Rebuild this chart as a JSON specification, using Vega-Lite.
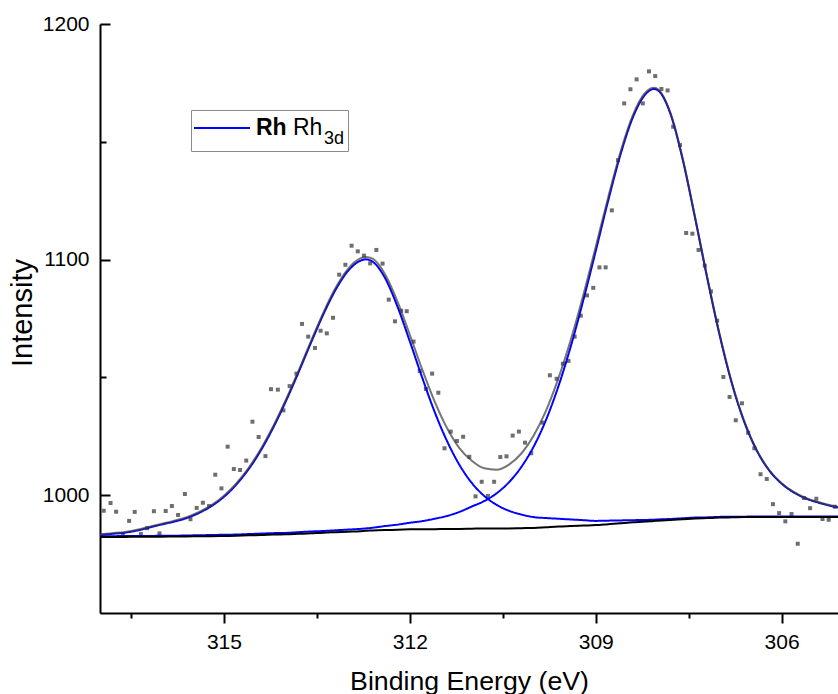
{
  "$schema": "https://vega.github.io/schema/vega-lite/v6.json",
  "width": 738,
  "height": 589,
  "autosize": {"type": "none"},
  "padding": {"left": 100, "top": 24, "right": 0, "bottom": 81},
  "background": "white",
  "config": {"view": {"stroke": null}, "font": "Liberation Sans"},
  "datasets": {
    "points": [
      {"be": 316.94, "counts": 993.4}, {"be": 316.83, "counts": 996.7}, {"be": 316.74, "counts": 993.0},
      {"be": 316.63, "counts": 983.5}, {"be": 316.53, "counts": 989.1}, {"be": 316.44, "counts": 992.9},
      {"be": 316.34, "counts": 983.5}, {"be": 316.24, "counts": 986.0}, {"be": 316.13, "counts": 993.2},
      {"be": 316.04, "counts": 983.8}, {"be": 315.94, "counts": 993.3}, {"be": 315.84, "counts": 995.4},
      {"be": 315.74, "counts": 991.6}, {"be": 315.63, "counts": 1000.5}, {"be": 315.54, "counts": 989.8},
      {"be": 315.44, "counts": 994.6}, {"be": 315.34, "counts": 996.8}, {"be": 315.24, "counts": 995.4},
      {"be": 315.14, "counts": 1008.7}, {"be": 315.04, "counts": 1002.9}, {"be": 314.94, "counts": 1020.6},
      {"be": 314.84, "counts": 1011.1}, {"be": 314.74, "counts": 1010.7}, {"be": 314.64, "counts": 1014.7},
      {"be": 314.54, "counts": 1031.2}, {"be": 314.44, "counts": 1024.7}, {"be": 314.33, "counts": 1016.6},
      {"be": 314.24, "counts": 1045.0}, {"be": 314.13, "counts": 1044.8}, {"be": 314.04, "counts": 1036.0},
      {"be": 313.94, "counts": 1046.3}, {"be": 313.83, "counts": 1051.6}, {"be": 313.74, "counts": 1072.7},
      {"be": 313.64, "counts": 1067.3}, {"be": 313.53, "counts": 1062.5}, {"be": 313.44, "counts": 1069.8},
      {"be": 313.34, "counts": 1068.7}, {"be": 313.24, "counts": 1075.3}, {"be": 313.14, "counts": 1093.6},
      {"be": 313.04, "counts": 1097.8}, {"be": 312.94, "counts": 1105.9}, {"be": 312.84, "counts": 1103.5},
      {"be": 312.74, "counts": 1101.7}, {"be": 312.64, "counts": 1098.4}, {"be": 312.54, "counts": 1104.1},
      {"be": 312.44, "counts": 1098.3}, {"be": 312.34, "counts": 1083.0}, {"be": 312.24, "counts": 1073.8},
      {"be": 312.14, "counts": 1078.3}, {"be": 312.05, "counts": 1078.1}, {"be": 311.94, "counts": 1065.2},
      {"be": 311.84, "counts": 1052.7}, {"be": 311.74, "counts": 1045.1}, {"be": 311.64, "counts": 1051.6},
      {"be": 311.54, "counts": 1043.5}, {"be": 311.44, "counts": 1019.9}, {"be": 311.34, "counts": 1027.0},
      {"be": 311.24, "counts": 1023.0}, {"be": 311.14, "counts": 1024.8}, {"be": 311.04, "counts": 1016.3},
      {"be": 310.94, "counts": 999.5}, {"be": 310.84, "counts": 1005.7}, {"be": 310.74, "counts": 999.7},
      {"be": 310.64, "counts": 1005.7}, {"be": 310.54, "counts": 1016.2}, {"be": 310.44, "counts": 1016.5},
      {"be": 310.34, "counts": 1025.3}, {"be": 310.24, "counts": 1027.0}, {"be": 310.14, "counts": 1022.3},
      {"be": 310.04, "counts": 1017.8}, {"be": 309.86, "counts": 1030.8}, {"be": 309.74, "counts": 1050.9},
      {"be": 309.63, "counts": 1049.4}, {"be": 309.53, "counts": 1055.8}, {"be": 309.44, "counts": 1057.0},
      {"be": 309.34, "counts": 1067.3}, {"be": 309.24, "counts": 1076.2}, {"be": 309.14, "counts": 1084.8},
      {"be": 309.04, "counts": 1088.0}, {"be": 308.94, "counts": 1096.7}, {"be": 308.84, "counts": 1096.7},
      {"be": 308.74, "counts": 1120.9}, {"be": 308.64, "counts": 1142.2}, {"be": 308.54, "counts": 1166.3},
      {"be": 308.44, "counts": 1172.3}, {"be": 308.34, "counts": 1176.5}, {"be": 308.24, "counts": 1166.3},
      {"be": 308.14, "counts": 1179.9}, {"be": 308.04, "counts": 1177.9}, {"be": 307.94, "counts": 1172.4},
      {"be": 307.84, "counts": 1171.8}, {"be": 307.75, "counts": 1156.4}, {"be": 307.64, "counts": 1148.6},
      {"be": 307.54, "counts": 1111.3}, {"be": 307.44, "counts": 1111.0}, {"be": 307.34, "counts": 1104.1},
      {"be": 307.24, "counts": 1097.4}, {"be": 307.14, "counts": 1086.5}, {"be": 307.04, "counts": 1074.1},
      {"be": 306.94, "counts": 1050.2}, {"be": 306.84, "counts": 1041.7}, {"be": 306.74, "counts": 1031.8},
      {"be": 306.64, "counts": 1039.0}, {"be": 306.54, "counts": 1026.5}, {"be": 306.44, "counts": 1019.9},
      {"be": 306.34, "counts": 1008.9}, {"be": 306.24, "counts": 1006.9}, {"be": 306.14, "counts": 996.2},
      {"be": 306.04, "counts": 992.4}, {"be": 305.94, "counts": 988.9}, {"be": 305.84, "counts": 992.0},
      {"be": 305.74, "counts": 979.4}, {"be": 305.64, "counts": 998.8}, {"be": 305.54, "counts": 994.5},
      {"be": 305.44, "counts": 998.5}, {"be": 305.34, "counts": 989.9}, {"be": 305.24, "counts": 989.6},
      {"be": 305.14, "counts": 995.1}
    ],
    "curves": [
      {"be": 317.0, "baseline": 982.3, "peak1": 983.1, "peak2": 982.6, "envelope": 983.4},
      {"be": 316.8, "baseline": 982.3, "peak1": 983.6, "peak2": 982.6, "envelope": 983.9},
      {"be": 316.6, "baseline": 982.3, "peak1": 984.1, "peak2": 982.7, "envelope": 984.4},
      {"be": 316.4, "baseline": 982.4, "peak1": 985.0, "peak2": 982.7, "envelope": 985.3},
      {"be": 316.2, "baseline": 982.4, "peak1": 986.3, "peak2": 982.7, "envelope": 986.6},
      {"be": 316.0, "baseline": 982.4, "peak1": 987.6, "peak2": 982.8, "envelope": 987.9},
      {"be": 315.8, "baseline": 982.5, "peak1": 988.8, "peak2": 982.8, "envelope": 989.2},
      {"be": 315.6, "baseline": 982.5, "peak1": 990.3, "peak2": 982.9, "envelope": 990.7},
      {"be": 315.4, "baseline": 982.6, "peak1": 992.5, "peak2": 983.0, "envelope": 992.9},
      {"be": 315.2, "baseline": 982.6, "peak1": 995.4, "peak2": 983.1, "envelope": 995.8},
      {"be": 315.0, "baseline": 982.7, "peak1": 999.3, "peak2": 983.2, "envelope": 999.8},
      {"be": 314.8, "baseline": 982.8, "peak1": 1004.5, "peak2": 983.3, "envelope": 1005.0},
      {"be": 314.6, "baseline": 983.0, "peak1": 1011.1, "peak2": 983.5, "envelope": 1011.6},
      {"be": 314.4, "baseline": 983.1, "peak1": 1019.2, "peak2": 983.7, "envelope": 1019.8},
      {"be": 314.2, "baseline": 983.3, "peak1": 1028.9, "peak2": 983.9, "envelope": 1029.5},
      {"be": 314.0, "baseline": 983.4, "peak1": 1039.9, "peak2": 984.0, "envelope": 1040.5},
      {"be": 313.8, "baseline": 983.6, "peak1": 1051.9, "peak2": 984.3, "envelope": 1052.6},
      {"be": 313.6, "baseline": 983.8, "peak1": 1064.4, "peak2": 984.6, "envelope": 1065.1},
      {"be": 313.4, "baseline": 984.1, "peak1": 1076.5, "peak2": 984.8, "envelope": 1077.2},
      {"be": 313.2, "baseline": 984.3, "peak1": 1087.1, "peak2": 985.1, "envelope": 1087.9},
      {"be": 313.0, "baseline": 984.5, "peak1": 1095.1, "peak2": 985.4, "envelope": 1096.0},
      {"be": 312.8, "baseline": 984.7, "peak1": 1099.5, "peak2": 985.7, "envelope": 1100.5},
      {"be": 312.71, "baseline": 984.9, "peak1": 1100.1, "peak2": 985.9, "envelope": 1101.1},
      {"be": 312.6, "baseline": 985.0, "peak1": 1099.1, "peak2": 986.2, "envelope": 1100.4},
      {"be": 312.4, "baseline": 985.2, "peak1": 1092.2, "peak2": 986.9, "envelope": 1093.8},
      {"be": 312.2, "baseline": 985.3, "peak1": 1080.1, "peak2": 987.5, "envelope": 1082.3},
      {"be": 312.0, "baseline": 985.5, "peak1": 1065.3, "peak2": 988.3, "envelope": 1068.1},
      {"be": 311.8, "baseline": 985.6, "peak1": 1049.9, "peak2": 989.0, "envelope": 1053.4},
      {"be": 311.6, "baseline": 985.6, "peak1": 1035.4, "peak2": 990.0, "envelope": 1039.8},
      {"be": 311.4, "baseline": 985.7, "peak1": 1023.0, "peak2": 991.2, "envelope": 1028.5},
      {"be": 311.2, "baseline": 985.7, "peak1": 1012.9, "peak2": 992.9, "envelope": 1020.0},
      {"be": 311.0, "baseline": 985.8, "peak1": 1005.2, "peak2": 995.2, "envelope": 1014.6},
      {"be": 310.8, "baseline": 985.9, "peak1": 999.7, "peak2": 997.5, "envelope": 1011.4},
      {"be": 310.6, "baseline": 985.9, "peak1": 995.9, "peak2": 1000.8, "envelope": 1010.8},
      {"be": 310.4, "baseline": 985.9, "peak1": 993.4, "peak2": 1005.5, "envelope": 1013.0},
      {"be": 310.2, "baseline": 986.0, "peak1": 991.8, "peak2": 1012.0, "envelope": 1017.7},
      {"be": 310.0, "baseline": 986.1, "peak1": 990.7, "peak2": 1020.7, "envelope": 1025.3},
      {"be": 309.8, "baseline": 986.4, "peak1": 990.3, "peak2": 1032.1, "envelope": 1036.0},
      {"be": 309.6, "baseline": 986.7, "peak1": 990.0, "peak2": 1046.4, "envelope": 1049.8},
      {"be": 309.4, "baseline": 986.9, "peak1": 989.7, "peak2": 1063.4, "envelope": 1066.2},
      {"be": 309.2, "baseline": 987.1, "peak1": 989.4, "peak2": 1082.8, "envelope": 1085.0},
      {"be": 309.0, "baseline": 987.3, "peak1": 989.1, "peak2": 1103.6, "envelope": 1105.4},
      {"be": 308.8, "baseline": 987.7, "peak1": 989.2, "peak2": 1124.9, "envelope": 1126.3},
      {"be": 308.6, "baseline": 988.1, "peak1": 989.3, "peak2": 1144.6, "envelope": 1145.7},
      {"be": 308.4, "baseline": 988.5, "peak1": 989.4, "peak2": 1160.4, "envelope": 1161.3},
      {"be": 308.2, "baseline": 988.8, "peak1": 989.5, "peak2": 1170.1, "envelope": 1170.8},
      {"be": 308.06, "baseline": 989.1, "peak1": 989.6, "peak2": 1172.4, "envelope": 1172.9},
      {"be": 308.0, "baseline": 989.2, "peak1": 989.7, "peak2": 1171.9, "envelope": 1172.4},
      {"be": 307.8, "baseline": 989.5, "peak1": 989.9, "peak2": 1162.3, "envelope": 1162.7},
      {"be": 307.6, "baseline": 989.8, "peak1": 990.2, "peak2": 1142.9, "envelope": 1143.3},
      {"be": 307.4, "baseline": 990.1, "peak1": 990.5, "peak2": 1118.1, "envelope": 1118.5},
      {"be": 307.2, "baseline": 990.3, "peak1": 990.6, "peak2": 1092.1, "envelope": 1092.4},
      {"be": 307.0, "baseline": 990.5, "peak1": 990.8, "peak2": 1067.9, "envelope": 1068.2},
      {"be": 306.8, "baseline": 990.6, "peak1": 990.9, "peak2": 1047.2, "envelope": 1047.5},
      {"be": 306.6, "baseline": 990.7, "peak1": 990.9, "peak2": 1030.9, "envelope": 1031.2},
      {"be": 306.4, "baseline": 990.7, "peak1": 991.0, "peak2": 1018.9, "envelope": 1019.1},
      {"be": 306.2, "baseline": 990.8, "peak1": 991.0, "peak2": 1010.5, "envelope": 1010.7},
      {"be": 306.0, "baseline": 990.8, "peak1": 991.0, "peak2": 1004.9, "envelope": 1005.1},
      {"be": 305.8, "baseline": 990.8, "peak1": 991.0, "peak2": 1001.1, "envelope": 1001.3},
      {"be": 305.6, "baseline": 990.8, "peak1": 991.0, "peak2": 998.5, "envelope": 998.7},
      {"be": 305.4, "baseline": 990.8, "peak1": 991.0, "peak2": 996.8, "envelope": 997.0},
      {"be": 305.2, "baseline": 990.8, "peak1": 991.0, "peak2": 995.4, "envelope": 995.6},
      {"be": 305.0, "baseline": 990.8, "peak1": 991.0, "peak2": 994.4, "envelope": 994.6}
    ]
  },
  "resolve": {"axis": {"x": "independent", "y": "independent"}},
  "layer": [
    {
      "data": {"name": "points"},
      "mark": {"type": "square", "size": 16, "color": "#6e6e6e", "opacity": 1},
      "encoding": {
        "x": {
          "field": "be", "type": "quantitative",
          "scale": {"domain": [305.09, 317.0], "reverse": true, "nice": false, "zero": false},
          "axis": {
            "orient": "bottom", "values": [315, 312, 309, 306], "format": "d",
            "title": "Binding Energy (eV)", "grid": false,
            "domainColor": "black", "domainWidth": 2,
            "tickColor": "black", "tickWidth": 2, "tickSize": 10,
            "labelFont": "Liberation Sans", "labelFontSize": 21, "labelColor": "black", "labelPadding": 8, "labelFlush": false,
            "titleFont": "Liberation Sans", "titleFontSize": 26.7, "titleFontWeight": "normal", "titleColor": "black",
            "titleBaseline": "alphabetic", "titleY": 76
          }
        },
        "y": {
          "field": "counts", "type": "quantitative",
          "scale": {"domain": [950, 1200], "nice": false, "zero": false},
          "axis": {
            "orient": "left", "values": [1000, 1100, 1200], "format": "d",
            "title": "Intensity", "grid": false,
            "domainColor": "black", "domainWidth": 2,
            "tickColor": "black", "tickWidth": 2, "tickSize": -10,
            "labelFont": "Liberation Sans", "labelFontSize": 21, "labelColor": "black", "labelPadding": 21,
            "titleFont": "Liberation Sans", "titleFontSize": 29, "titleFontWeight": "normal", "titleColor": "black",
            "titleBaseline": "alphabetic", "titleX": -69, "titleY": 288.5
          }
        }
      }
    },
    {
      "data": {"name": "curves"},
      "transform": [{"fold": ["peak1", "peak2"], "as": ["peak", "intensity"]}],
      "mark": {"type": "line", "strokeWidth": 2, "clip": true, "interpolate": "monotone"},
      "encoding": {
        "x": {
          "field": "be", "type": "quantitative",
          "axis": {
            "orient": "bottom", "values": [316.5, 313.5, 310.5, 307.5], "labels": false, "domain": false,
            "grid": false, "title": null, "tickColor": "black", "tickWidth": 2, "tickSize": 5
          }
        },
        "y": {
          "field": "intensity", "type": "quantitative",
          "axis": {
            "orient": "left", "values": [1050, 1150], "labels": false, "domain": false,
            "grid": false, "title": null, "tickColor": "black", "tickWidth": 2, "tickSize": -6
          }
        },
        "color": {
          "field": "peak", "type": "nominal",
          "scale": {"range": ["#0000ff", "#0000ff"]},
          "legend": {
            "values": ["peak1"], "labelExpr": "'Rh'",
            "orient": "none", "legendX": 93, "legendY": 92,
            "symbolType": "stroke", "symbolSize": 3136, "symbolStrokeWidth": 2,
            "clipHeight": 24,
            "labelFont": "Liberation Sans", "labelFontSize": 23, "labelFontWeight": "bold", "labelColor": "black", "labelOffset": 5,
            "title": "Rh", "titleOrient": "right", "titleFont": "Liberation Sans", "titleFontSize": 23,
            "titleFontWeight": "normal", "titleColor": "black", "titlePadding": 6,
            "padding": 0
          }
        },
        "strokeDash": {
          "field": "peak", "type": "nominal",
          "scale": {"domain": ["peak1", "peak2"], "range": [[1, 0], [1, 0]]},
          "legend": {
            "values": ["peak1"], "labelExpr": "'3d'", "title": null,
            "orient": "none", "legendX": 91, "legendY": 86,
            "symbolType": "stroke", "symbolOpacity": 0, "symbolSize": 12996,
            "clipHeight": 34, "labelBaseline": "top",
            "labelFont": "Liberation Sans", "labelFontSize": 18, "labelColor": "black", "labelOffset": 14,
            "padding": 3, "strokeColor": "#8a8a8a", "cornerRadius": 0
          }
        }
      }
    },
    {
      "data": {"name": "curves"},
      "mark": {"type": "line", "strokeWidth": 2, "color": "black", "clip": true, "interpolate": "monotone"},
      "encoding": {
        "x": {"field": "be", "type": "quantitative", "axis": null},
        "y": {"field": "baseline", "type": "quantitative", "axis": null}
      }
    },
    {
      "data": {"name": "curves"},
      "mark": {"type": "line", "strokeWidth": 2, "color": "#3a3a3a", "opacity": 0.7, "clip": true, "interpolate": "monotone"},
      "encoding": {
        "x": {"field": "be", "type": "quantitative", "axis": null},
        "y": {"field": "envelope", "type": "quantitative", "axis": null}
      }
    }
  ]
}
